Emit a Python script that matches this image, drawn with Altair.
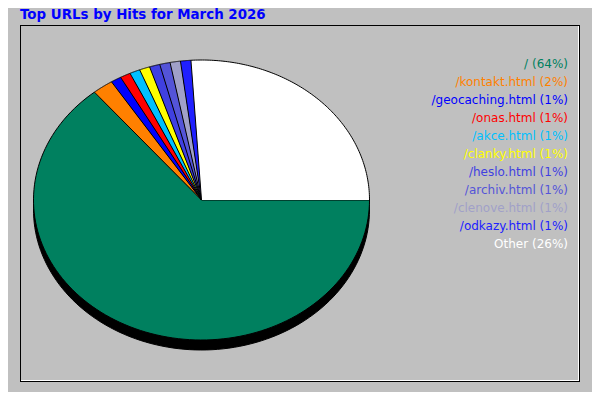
import altair as alt
import pandas as pd

title_text = "Top URLs by Hits for March 2026"
names = ["/", "/kontakt.html", "/geocaching.html", "/onas.html", "/akce.html",
         "/clanky.html", "/heslo.html", "/archiv.html", "/clenove.html",
         "/odkazy.html", "Other"]
values = [64, 2, 1, 1, 1, 1, 1, 1, 1, 1, 26]
colors = ["#00805F", "#FF8000", "#0000FF", "#FF0000", "#00C0FF", "#FFFF00",
          "#4040E0", "#5454D8", "#A0A0C8", "#2020FF", "#FFFFFF"]

df = pd.DataFrame({"name": names, "value": values, "idx": list(range(len(names)))})

CX, CY, RX, RY, DEPTH = 201.5, 200, 168, 140, 10
N = 120

xs = alt.Scale(domain=[8, 592], nice=False, zero=False)
ys = alt.Scale(domain=[8, 392], nice=False, zero=False, reverse=True)
cs = alt.Scale(domain=names, range=colors)

base = alt.Chart(df).transform_window(
    cum="sum(value)", sort=[alt.SortField("idx")], frame=[None, 0]
).transform_joinaggregate(total="sum(value)").transform_calculate(
    a0="2*PI*(datum.cum - datum.value)/datum.total",
    a1="2*PI*datum.cum/datum.total",
    k=f"sequence(-1, {N + 1})",
).transform_flatten(["k"]).transform_calculate(
    ang=f"datum.a0 + (datum.a1 - datum.a0) * max(datum.k, 0) / {N}",
).transform_calculate(
    px=f"datum.k < 0 ? {CX} : {CX} + {RX} * cos(datum.ang)",
    py=f"datum.k < 0 ? {CY} : {CY} + {RY} * sin(datum.ang)",
).transform_calculate(
    py2=f"datum.py + {DEPTH}",
)

shadow = base.mark_line(filled=True, color="black", stroke="black", strokeWidth=1).encode(
    x=alt.X("px:Q", scale=xs, axis=None),
    y=alt.Y("py2:Q", scale=ys, axis=None),
    detail="name:N",
    order="k:Q",
)

pie = base.mark_line(filled=True, stroke="black", strokeWidth=1, strokeJoin="round").encode(
    x=alt.X("px:Q", scale=xs, axis=None),
    y=alt.Y("py:Q", scale=ys, axis=None),
    color=alt.Color("name:N", scale=cs, legend=None),
    detail="name:N",
    order="k:Q",
)

labels = alt.Chart(df).transform_joinaggregate(total="sum(value)").transform_calculate(
    label='datum.name + " (" + round(100*datum.value/datum.total) + "%)"',
    ly="64 + 18*datum.idx",
).mark_text(align="right", baseline="middle", font="DejaVu Sans", fontSize=12).encode(
    x=alt.XDatum(568, scale=xs, axis=None),
    y=alt.Y("ly:Q", scale=ys, axis=None),
    text="label:N",
    color=alt.Color("name:N", scale=cs, legend=None),
)

title = alt.Chart(pd.DataFrame({"t": [title_text]})).mark_text(
    align="left", baseline="alphabetic", font="DejaVu Sans", fontSize=13.4,
    fontWeight="bold", color="#0000FF"
).encode(
    x=alt.XDatum(20, scale=xs, axis=None),
    y=alt.YDatum(19, scale=ys, axis=None),
    text="t:N",
)

def hrule(x1, x2, y, col):
    return alt.Chart(pd.DataFrame({"a": [0]})).mark_rule(color=col, strokeWidth=1).encode(
        x=alt.XDatum(x1, scale=xs, axis=None), x2=alt.X2Datum(x2),
        y=alt.YDatum(y, scale=ys, axis=None))

def vrule(x, y1, y2, col):
    return alt.Chart(pd.DataFrame({"a": [0]})).mark_rule(color=col, strokeWidth=1).encode(
        x=alt.XDatum(x, scale=xs, axis=None),
        y=alt.YDatum(y1, scale=ys, axis=None), y2=alt.Y2Datum(y2))

frame = [
    hrule(20, 580, 25.5, "black"),
    vrule(20.5, 25, 382, "black"),
    vrule(579.5, 25, 382, "black"),
    hrule(20, 580, 381.5, "black"),
    vrule(578.5, 26, 381, "white"),
    hrule(21, 579, 380.5, "white"),
]

chart = alt.layer(*frame, shadow, pie, labels, title).properties(
    width=584, height=384, padding=0, autosize="none", background="#C0C0C0"
).configure_view(stroke=None)

chart.save("out.html", embed_options={"renderer": "svg", "actions": False})
